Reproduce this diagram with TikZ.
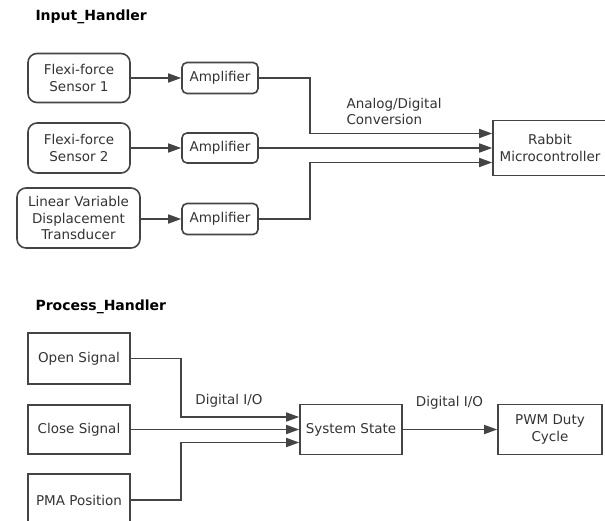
\documentclass[tikz,border=0pt]{standalone}
\usepackage{fontspec}
\setmainfont{DejaVu Sans}
\usetikzlibrary{arrows.meta}
\definecolor{linec}{HTML}{444444}
\definecolor{textc}{HTML}{333333}
\tikzset{
  every node/.style={font=\fontsize{13.5}{16.5}\selectfont, text=textc},
  blk/.style={draw=linec, line width=1.6pt, inner sep=0pt, align=center},
  rblk/.style={blk, rounded corners=9pt},
  ampblk/.style={blk, rounded corners=5pt},
  arr/.style={draw=linec, line width=1.6pt, -{Triangle[length=13pt,width=9pt]}},
  ttl/.style={font=\fontsize{14}{16}\selectfont\bfseries, text=black, anchor=west},
  lbl/.style={anchor=west, align=left}
}
\begin{document}
\begin{tikzpicture}[x=1pt,y=-1pt]
\useasboundingbox (0,0) rectangle (605,520);
\clip (0,0) rectangle (605,520);
% Input handler
\node[ttl] (t1) at (32,17) {Input\_Handler};
\node[rblk, minimum width=102pt, minimum height=49pt] (s1) at (79,78) {Flexi-force\\Sensor 1};
\node[rblk, minimum width=102pt, minimum height=50pt] (s2) at (79,148) {Flexi-force\\Sensor 2};
\node[rblk, minimum width=123pt, minimum height=60pt] (s3) at (78.5,218) {Linear Variable\\Displacement\\Transducer};
\node[ampblk, minimum width=76pt, minimum height=31pt] (a1) at (220,78) {Amplifier};
\node[ampblk, minimum width=76pt, minimum height=30pt] (a2) at (220,148) {Amplifier};
\node[ampblk, minimum width=76pt, minimum height=31pt] (a3) at (220,219) {Amplifier};
\node[blk, minimum width=114pt, minimum height=55pt] (rb) at (550,148) {Rabbit\\Microcontroller};
\draw[arr] (s1.east) -- (a1.west);
\draw[arr] (s2.east) -- (a2.west);
\draw[arr] (s3.east |- a3.west) -- (a3.west);
\coordinate (r1) at ([yshift=14.5pt]rb.west);
\coordinate (r3) at ([yshift=-14.5pt]rb.west);
\draw[arr] (a1.east) -- (310,78) |- (r1);
\draw[arr] (a2.east) -- (rb.west);
\draw[arr] (a3.east) -- (310,219) |- (r3);
\node[lbl] (adc) at (343,111.5) {Analog/Digital\\Conversion};
% Process handler
\node[ttl] (t2) at (32,307) {Process\_Handler};
\node[blk, minimum width=102pt, minimum height=51pt] (os) at (79,358.5) {Open Signal};
\node[blk, minimum width=102pt, minimum height=49pt] (cs) at (79,429.5) {Close Signal};
\node[blk, minimum width=102pt, minimum height=52pt] (pm) at (79,500) {PMA Position};
\node[blk, minimum width=102pt, minimum height=50pt] (ss) at (351,429.5) {System State};
\node[blk, minimum width=104pt, minimum height=50pt] (pw) at (550,429.5) {PWM Duty\\Cycle};
\coordinate (q1) at ([yshift=12.5pt]ss.west);
\coordinate (q3) at ([yshift=-13pt]ss.west);
\draw[arr] (os.east) -- (181,358.5) |- (q1);
\draw[arr] (cs.east) -- (ss.west);
\draw[arr] (pm.east) -- (181,500) |- (q3);
\draw[arr] (ss.east) -- (pw.west);
\node (d1) at (229,401) {Digital I/O};
\node (d2) at (449.5,403) {Digital I/O};
\end{tikzpicture}
\end{document}
